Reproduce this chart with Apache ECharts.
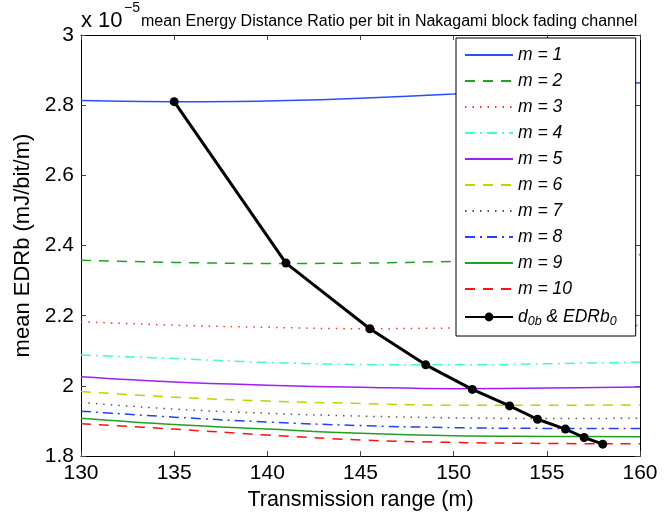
<!DOCTYPE html>
<html lang="en">
<head>
    <meta charset="UTF-8">
    <title>mean EDRb</title>
    <script src="https://cdn.jsdelivr.net/npm/echarts@6/dist/echarts.min.js"></script>
    <style>
        html, body {
            margin: 0;
            height: 100%;
            background: #fff;
        }
    </style>
</head>
<body>
<div id="main" style="width: 664px;height: 516px;"></div>
</body>
</html>
<script>
    // 曲线横坐标 (Transmission range, m)
    var rangeX = [130, 135, 140, 145, 150, 155, 160];

    // mean EDRb (x 10^-5) for m = 1..10
    var m1 = [2.813, 2.810, 2.812, 2.820, 2.832, 2.847, 2.864];
    var m2 = [2.358, 2.352, 2.349, 2.350, 2.355, 2.363, 2.374];
    var m3 = [2.183, 2.173, 2.167, 2.163, 2.165, 2.168, 2.172];
    var m4 = [2.088, 2.078, 2.067, 2.061, 2.060, 2.063, 2.068];
    var m5 = [2.026, 2.011, 2.002, 1.996, 1.992, 1.994, 1.997];
    var m6 = [1.984, 1.968, 1.957, 1.950, 1.945, 1.945, 1.946];
    var m7 = [1.953, 1.934, 1.922, 1.914, 1.909, 1.907, 1.908];
    var m8 = [1.928, 1.911, 1.897, 1.887, 1.881, 1.879, 1.879];
    var m9 = [1.908, 1.890, 1.877, 1.865, 1.858, 1.856, 1.855];
    var m10 = [1.892, 1.877, 1.860, 1.846, 1.839, 1.836, 1.835];

    // d0b & EDRb0
    var d0b = [135, 141, 145.5, 148.5, 151, 153, 154.5, 156, 157, 158];
    var edrb0 = [2.81, 2.35, 2.163, 2.06, 1.99, 1.943, 1.905, 1.877, 1.853, 1.834];

    var names = ['m = 1', 'm = 2', 'm = 3', 'm = 4', 'm = 5', 'm = 6', 'm = 7', 'm = 8', 'm = 9', 'm = 10'];
    var curves = [m1, m2, m3, m4, m5, m6, m7, m8, m9, m10];
    var colors = ['#2a4dff', '#22a022', '#ff3030', '#40ffc0', '#a020f0', '#c0d400', '#555555', '#2040ff', '#22a022', '#ff1010'];
    var dashes = ['solid', [10, 8], [1.5, 6], [10, 5, 2, 5], 'solid', [10, 8], [1.5, 6], [10, 5, 2, 5], 'solid', [10, 8]];
    var lastName = 'd0b & EDRb0';

    function pairs(xs, ys) {
        var out = [];
        for (var i = 0; i < xs.length; i++) {
            out.push([xs[i], ys[i]]);
        }
        return out;
    }

    var series = [];
    var legendData = [];
    for (var k = 0; k < curves.length; k++) {
        series.push({
            name: names[k],
            type: 'line',
            smooth: 0.4,
            showSymbol: false,
            symbol: 'none',
            data: pairs(rangeX, curves[k]),
            lineStyle: {color: colors[k], width: 1.5, type: dashes[k]},
            itemStyle: {color: colors[k]},
            z: 2
        });
        // 图例里只画线，不画点
        legendData.push({name: names[k], itemStyle: {opacity: 0}});
    }
    series.push({
        name: lastName,
        type: 'line',
        symbol: 'circle',
        symbolSize: 9,
        data: pairs(d0b, edrb0),
        lineStyle: {color: '#000', width: 3},
        itemStyle: {color: '#000'},
        z: 3
    });
    legendData.push({name: lastName});

    var font = 'Liberation Sans, Arial, sans-serif';
    var myChart = echarts.init(document.getElementById('main'));
    var option = {
        animation: false,
        textStyle: {fontFamily: font},
        grid: {left: 81, right: 24, top: 35, bottom: 59},
        graphic: [
            {type: 'text', left: 81, top: 10, style: {text: 'x 10', fontSize: 22, fontFamily: font, fill: '#000'}},
            {type: 'text', left: 124, top: 1, style: {text: '\u22125', fontSize: 14, fontFamily: font, fill: '#000'}},
            {type: 'text', left: 141, top: 14, style: {text: 'mean Energy Distance Ratio per bit in Nakagami block fading channel', fontSize: 16, fontFamily: font, fill: '#000'}}
        ],
        legend: {
            orient: 'vertical',
            left: 456,
            top: 38,
            padding: [8, 19, 8, 8],
            itemWidth: 48,
            itemHeight: 11,
            itemGap: 8,
            borderColor: '#000',
            borderWidth: 1,
            backgroundColor: '#fff',
            data: legendData,
            formatter: function (name) {
                if (name === lastName) {
                    return '{i|d}{s|0b}{i| & EDRb}{s|0}';
                }
                return '{i|' + name + '}';
            },
            textStyle: {
                fontFamily: font,
                rich: {
                    i: {fontSize: 17.5, lineHeight: 20, fontStyle: 'italic', fontFamily: font, color: '#000'},
                    s: {fontSize: 12.5, lineHeight: 12, fontStyle: 'italic', fontFamily: font, color: '#000', padding: [9, 0, 0, 0]}
                }
            }
        },
        xAxis: [{
            type: 'value',
            min: 130,
            max: 160,
            interval: 5,
            name: 'Transmission range (m)',
            nameLocation: 'middle',
            nameGap: 30,
            nameTextStyle: {fontSize: 21.5, color: '#000', fontFamily: font},
            axisLine: {lineStyle: {color: '#000', width: 1}},
            axisTick: {inside: true, length: 5, lineStyle: {color: '#444'}},
            axisLabel: {fontSize: 21, color: '#000', margin: 7, fontFamily: font},
            splitLine: {show: false}
        }, {
            type: 'value',
            position: 'top',
            min: 130,
            max: 160,
            interval: 5,
            axisLine: {show: true, lineStyle: {color: '#000', width: 1}},
            axisTick: {inside: true, length: 5, lineStyle: {color: '#444'}},
            axisLabel: {show: false},
            splitLine: {show: false}
        }],
        yAxis: [{
            type: 'value',
            min: 1.8,
            max: 3,
            interval: 0.2,
            name: 'mean EDRb (mJ/bit/m)',
            nameLocation: 'middle',
            nameGap: 31,
            nameTextStyle: {fontSize: 22, color: '#000', fontFamily: font},
            axisLine: {show: true, lineStyle: {color: '#000', width: 1}},
            axisTick: {inside: true, length: 5, lineStyle: {color: '#444'}},
            axisLabel: {
                fontSize: 21, color: '#000', margin: 7, fontFamily: font,
                formatter: function (v) {
                    return String(Math.round(v * 10) / 10);
                }
            },
            splitLine: {show: false}
        }, {
            type: 'value',
            position: 'right',
            min: 1.8,
            max: 3,
            interval: 0.2,
            axisLine: {show: true, lineStyle: {color: '#000', width: 1}},
            axisTick: {inside: true, length: 5, lineStyle: {color: '#444'}},
            axisLabel: {show: false},
            splitLine: {show: false}
        }],
        series: series
    };
    myChart.setOption(option);
</script>
